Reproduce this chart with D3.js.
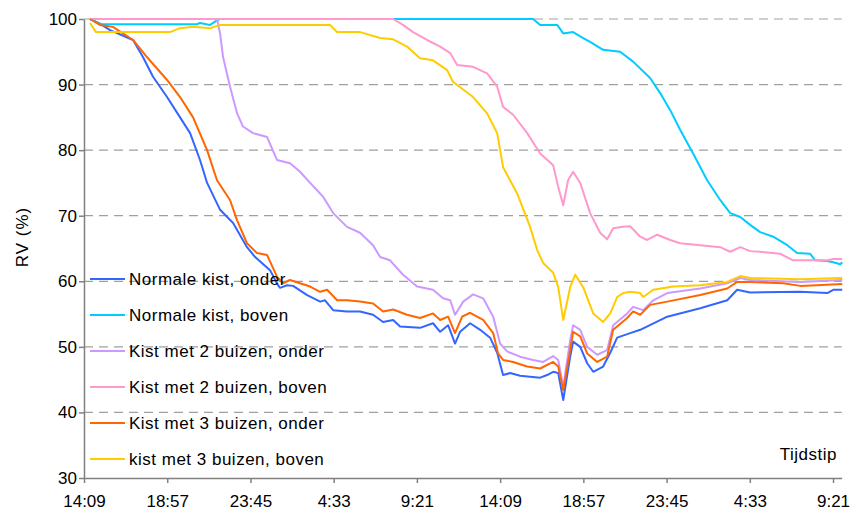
<!DOCTYPE html>
<html>
<head>
<meta charset="utf-8">
<script src="https://cdn.jsdelivr.net/npm/d3@7"></script>
<style>
body{margin:0;background:#fff;}
svg{display:block;font-family:"Liberation Sans",Arial,sans-serif;}
</style>
</head>
<body>
<svg width="851" height="510"></svg>
<script>
// hours after the first tick (14:09), RV in %
var seriesNames = ["Normale kist, onder","Normale kist, boven","Kist met 2 buizen, onder","Kist met 2 buizen, boven","Kist met 3 buizen, onder","kist met 3 buizen, boven"];
var seriesColors = ["#3366FF","#00CCFF","#CC99FF","#FF99CC","#FF6600","#FFCC00"];
var yTicks = [30,40,50,60,70,80,90,100];
var startLabel = "14:09";
var tickStep = 4.8; // hours
var xMax = 43.7;

var normaleOnder = [[0.35,100],[0.92,99.3],[1.5,98.3],[2.83,96.8],[3.4,94.2],[3.98,91.2],[4.79,88.1],[5.54,85],[6.12,82.6],[6.69,78.5],[7.1,75],[7.85,70.9],[8.6,68.9],[9.4,65.2],[9.87,63.7],[10.73,61.7],[11.19,59.4],[11.31,59],[11.71,59.4],[12.06,59.3],[12.87,57.9],[13.62,56.9],[13.9,57.1],[14.37,55.6],[15.17,55.4],[15.92,55.4],[16.67,54.9],[17.25,53.8],[17.83,54.1],[18.23,53.1],[19.38,52.9],[20.13,53.6],[20.54,52.3],[21.0,53.3],[21.4,50.5],[21.69,52.3],[22.27,53.6],[22.85,52.6],[23.42,51.4],[23.83,49.1],[24.17,45.7],[24.58,46],[25.15,45.6],[26.31,45.3],[26.71,45.7],[27.06,46.2],[27.35,46],[27.64,41.9],[28.04,48.5],[28.21,50.8],[28.62,50],[29.02,47.5],[29.37,46.2],[29.94,47],[30.35,49.1],[30.75,51.4],[31.5,52.1],[32.08,52.6],[33.64,54.6],[35.54,55.9],[37.1,57.1],[37.67,58.7],[38.42,58.3],[41.31,58.4],[42.87,58.2],[43.21,58.7],[43.73,58.7]];
var normaleBoven = [[0.35,100],[0.92,99.2],[6.52,99.2],[6.69,99.4],[7.27,99.1],[7.67,99.8],[7.85,100],[25.9,100],[26.31,99.1],[27.29,99.1],[27.64,97.8],[28.21,98],[28.79,97.1],[29.19,96.5],[29.94,95.3],[30.92,95],[31.67,93.5],[32.65,91],[33.23,88.7],[33.81,86.1],[34.38,83.1],[35.13,79.5],[35.94,75.4],[36.69,72.4],[37.27,70.4],[37.85,69.8],[38.42,68.6],[39.0,67.5],[39.75,66.8],[40.56,65.5],[41.13,64.3],[41.88,64.2],[42.17,63.2],[42.87,63.1],[43.21,62.9],[43.62,62.6],[43.73,62.9]];
var kist2Onder = [[0.35,100],[7.67,100],[7.85,97.8],[8.02,94.2],[8.42,89.7],[8.83,85.6],[9.17,83.6],[9.75,82.6],[10.56,82],[11.13,78.5],[11.88,78],[12.46,76.7],[13.04,75],[13.79,72.9],[14.37,70.4],[15.17,68.3],[15.92,67.4],[16.67,65.5],[17.08,63.7],[17.65,63.2],[18.4,61],[19.21,59.2],[20.13,58.7],[20.71,57.4],[21.12,57.1],[21.4,54.9],[21.87,56.9],[22.44,58],[23.02,57.4],[23.6,54.6],[24.0,50.5],[24.4,49.3],[25.15,48.5],[25.9,48],[26.48,47.7],[27.06,48.6],[27.35,48],[27.64,43.9],[28.04,51],[28.21,53.3],[28.62,52.6],[29.02,50],[29.6,48.8],[30.17,49.5],[30.52,53.3],[31.33,55.1],[31.67,56.1],[32.25,55.6],[32.83,57.1],[33.64,58.2],[35.54,58.9],[37.1,59.7],[37.85,60.5],[38.42,60.2],[41.31,59.9],[43.73,60.2]];
var kist2Boven = [[0.35,100],[17.83,100],[18.4,99.1],[18.98,98],[19.79,96.8],[20.54,95.8],[21.12,94.8],[21.52,93],[22.44,92.7],[23.25,91.7],[23.83,89.7],[24.17,86.6],[24.75,85.4],[25.56,82.6],[26.31,79.5],[27.06,77.7],[27.35,74.4],[27.64,71.6],[27.92,75.4],[28.21,76.7],[28.62,75],[29.19,70.4],[29.77,67.4],[30.17,66.4],[30.52,68.1],[31.1,68.3],[31.5,68.4],[32.08,66.8],[32.48,66.3],[33.06,67.1],[33.81,66.3],[34.38,65.8],[35.54,65.5],[36.69,65.2],[37.27,64.5],[37.85,65.2],[38.42,64.6],[39.0,64.5],[40.15,64.2],[40.9,63.2],[42.87,63.2],[43.21,63.4],[43.73,63.4]];
var kist3Onder = [[0.35,100],[0.92,99.1],[1.67,98.8],[2.83,96.8],[3.63,94.2],[4.79,90.7],[5.54,88.1],[6.29,85],[7.1,80],[7.67,75.4],[8.42,72.4],[8.83,69.3],[9.4,65.8],[9.98,64.3],[10.56,64],[11.13,60.7],[11.48,59.7],[11.88,60.2],[13.04,59.2],[13.62,58.4],[14.02,58.7],[14.6,57.1],[15.17,57.1],[15.92,56.9],[16.67,56.6],[17.25,55.4],[17.83,55.7],[18.63,54.9],[19.38,54.4],[20.13,55.1],[20.54,54.1],[21.0,54.6],[21.4,52.1],[21.81,54.6],[22.27,55.2],[23.02,54.1],[23.6,52.1],[23.88,49],[24.17,48],[24.75,47.7],[25.56,47],[26.31,46.7],[27.06,47.7],[27.35,47],[27.64,43.4],[28.04,49.5],[28.21,52.3],[28.62,51.6],[29.02,49],[29.6,47.7],[30.17,48.5],[30.52,52.6],[31.33,54.4],[31.67,55.4],[32.08,54.9],[32.65,56.4],[33.64,56.9],[35.54,57.9],[37.1,58.9],[37.67,59.9],[38.42,59.9],[40.33,59.7],[41.31,59.3],[42.29,59.4],[43.73,59.6]];
var kist3Boven = [[0.35,99.4],[0.69,98],[1.9,98],[4.96,98],[5.54,98.6],[6.29,98.8],[7.27,98.6],[7.85,99.1],[12.46,99.1],[14.19,99.1],[14.6,98],[15.92,98],[17.08,97.1],[17.83,96.9],[18.63,95.8],[19.38,94],[20.13,93.7],[20.94,92.2],[21.29,90.4],[22.44,88.1],[23.25,85.6],[23.83,82.6],[24.17,77.4],[24.98,73.4],[25.73,68.3],[26.13,64.8],[26.48,62.8],[27.06,61.3],[27.35,59.1],[27.64,54.1],[28.04,59.1],[28.33,61],[28.79,59.1],[29.37,55.1],[29.94,53.8],[30.35,55.1],[30.75,57.6],[31.1,58.2],[31.5,58.4],[32.08,58.2],[32.25,57.6],[32.83,58.7],[33.98,59.2],[35.54,59.4],[37.1,59.9],[37.85,60.8],[38.42,60.5],[41.31,60.3],[43.73,60.5]];

var allSeries = [normaleOnder,normaleBoven,kist2Onder,kist2Boven,kist3Onder,kist3Boven];

var svg = d3.select("svg");
var plotLeft = 84, plotRight = 841.7, plotTop = 19, plotBottom = 478;

var x = d3.scaleLinear().domain([0,xMax]).range([plotLeft,plotRight]);
var y = d3.scaleLinear().domain([30,100]).range([plotBottom,plotTop]);

function timeLabel(h){
    var p = startLabel.split(":");
    var m = Math.round(+p[0]*60 + +p[1] + h*60) % 1440;
    return Math.floor(m/60) + ":" + d3.format("02d")(m%60);
}
var xTicks = d3.range(0, xMax, tickStep);

// gridlines
svg.append("g")
    .selectAll("line")
    .data(yTicks.filter(function(d){return d>30;}))
    .join("line")
    .attr("x1",plotLeft).attr("x2",plotRight)
    .attr("y1",function(d){return y(d);}).attr("y2",function(d){return y(d);})
    .attr("stroke","#a0a0a0")
    .attr("stroke-width",1.2)
    .attr("stroke-dasharray","9,6");

// axes
var yAxis = svg.append("g")
    .attr("transform","translate("+plotLeft+",0)")
    .call(d3.axisLeft(y).tickValues(yTicks).tickSize(5).tickPadding(2).tickSizeOuter(0));
var xAxis = svg.append("g")
    .attr("transform","translate(0,"+plotBottom+")")
    .call(d3.axisBottom(x).tickValues(xTicks).tickFormat(timeLabel).tickSize(5).tickPadding(12).tickSizeOuter(0));
[yAxis,xAxis].forEach(function(a){
    a.select(".domain").attr("stroke","#808080").attr("stroke-width",1.5);
    a.selectAll(".tick line").attr("stroke","#808080").attr("stroke-width",1.5);
    a.selectAll("text").attr("font-size",17).attr("font-family","Liberation Sans, Arial, sans-serif").attr("fill","#000");
});

// lines
var line = d3.line()
    .x(function(d){return x(d[0]);})
    .y(function(d){return y(d[1]);});
for(var i=0;i<allSeries.length;i++){
    svg.append("path")
        .datum(allSeries[i])
        .attr("fill","none")
        .attr("stroke",seriesColors[i])
        .attr("stroke-width",2)
        .attr("stroke-linejoin","round")
        .attr("d",line);
}

// legend
var leg = svg.append("g").attr("class","legend");
for(var i=0;i<seriesNames.length;i++){
    var ly = 279 + i*36;
    leg.append("line")
        .attr("x1",90).attr("x2",125)
        .attr("y1",ly).attr("y2",ly)
        .attr("stroke",seriesColors[i])
        .attr("stroke-width",2);
    leg.append("text")
        .attr("x",129).attr("y",ly)
        .attr("dy","0.35em")
        .attr("font-size",17)
        .attr("letter-spacing","0.5px")
        .text(seriesNames[i]);
}

// axis titles
svg.append("text")
    .attr("transform","translate(22,237) rotate(-90)")
    .attr("text-anchor","middle")
    .attr("dy","0.35em")
    .attr("font-size",17)
    .attr("letter-spacing","1px")
    .text("RV (%)");
svg.append("text")
    .attr("x",837).attr("y",460)
    .attr("text-anchor","end")
    .attr("font-size",17)
    .attr("letter-spacing","0.5px")
    .text("Tijdstip");
</script>
</body>
</html>
